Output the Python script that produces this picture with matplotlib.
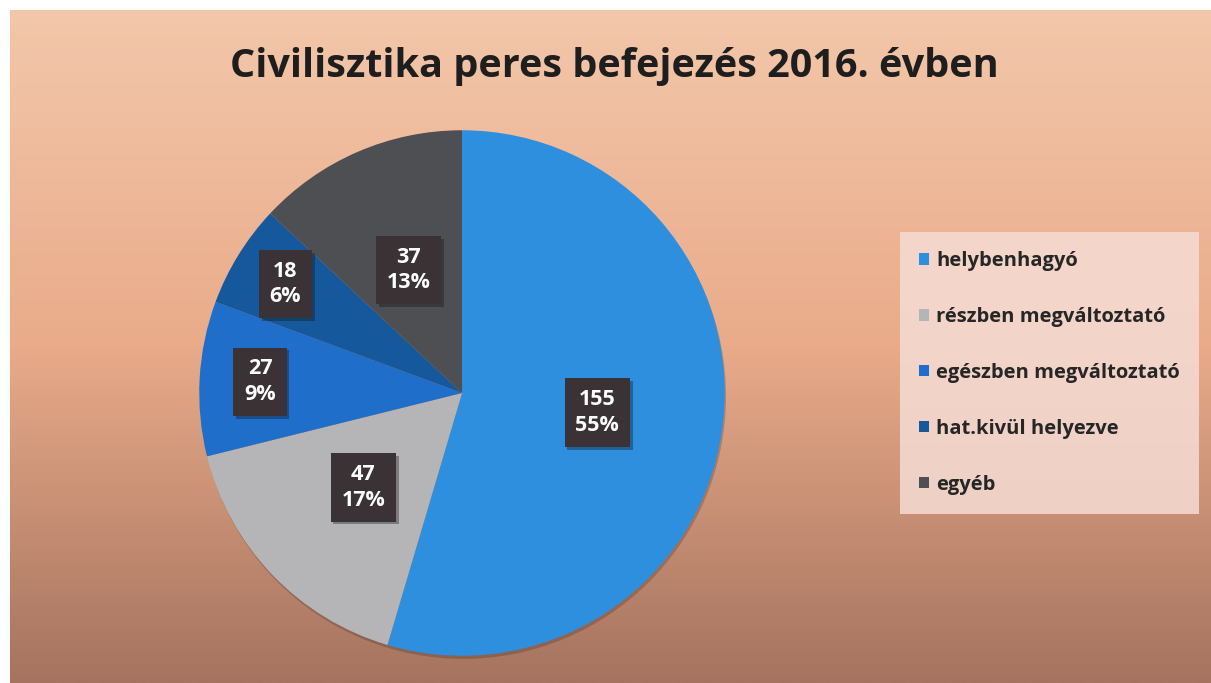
import numpy as np
import matplotlib.pyplot as plt
import matplotlib.patheffects as pe
from matplotlib.patches import Circle

plt.rcParams['font.family'] = ['Open Sans', 'DejaVu Sans']

# data
categories = ['helybenhagyó', 'részben megváltoztató', 'egészben megváltoztató',
              'hat.kivül helyezve', 'egyéb']
counts = [155, 47, 27, 18, 37]
percent_labels = ['55%', '17%', '9%', '6%', '13%']

# style
colors = ['#2f8fdf', '#b5b5b7', '#1f6fca', '#15599c', '#4e4f52']
label_dist = [0.52, 0.52, 0.77, 0.79, 0.51]

W, H = 1211, 683
fig = plt.figure(figsize=(W / 100, H / 100), dpi=100)
fig.patch.set_facecolor('white')

# background gradient panel
bg = fig.add_axes([0, 0, 1, 1])
ys = np.linspace(0, 1, 300)
stops_y = [0.0, 0.5, 1.0]
stops_c = [(243, 199, 170), (233, 171, 138), (165, 115, 95)]
grad = np.zeros((300, 1, 3))
for k in range(3):
    grad[:, 0, k] = np.interp(ys, stops_y, [c[k] / 255 for c in stops_c])
bg.imshow(grad, aspect='auto', extent=(10, W, H, 10))
bg.set_xlim(0, W)
bg.set_ylim(H, 0)
bg.axis('off')

# pie
cx, cy, R = 462, 393, 268
ax = fig.add_axes([(cx - R) / W, (H - cy - R) / H, 2 * R / W, 2 * R / H])
ax.add_patch(Circle((0.005, -0.012), 1.0, fc='black', alpha=0.18, ec='none', zorder=0))
wedges, _ = ax.pie(counts, colors=colors, startangle=90, counterclock=False,
                   radius=1, wedgeprops=dict(linewidth=0))
ax.set_xlim(-1.02, 1.02)
ax.set_ylim(-1.02, 1.02)
ax.set_aspect('equal')
ax.axis('off')

for w, n, p, d in zip(wedges, counts, percent_labels, label_dist):
    mid = np.deg2rad((w.theta1 + w.theta2) / 2)
    t = ax.text(d * np.cos(mid), d * np.sin(mid), f'{n}\n{p}', ha='center', va='center',
                color='white', fontsize=15.5, fontweight='bold', linespacing=1.3,
                bbox=dict(boxstyle='square,pad=0.5', fc='#3b3236', ec='none'))
    t.get_bbox_patch().set_path_effects([pe.SimplePatchShadow(offset=(2, -2), alpha=0.35),
                                         pe.Normal()])

# legend
leg = fig.legend(wedges, categories, loc='upper left',
                 bbox_to_anchor=(900 / W, 1 - 232 / H), frameon=True,
                 fontsize=14.5, handlelength=0.5, handleheight=0.5, handletextpad=0.35,
                 labelspacing=1.78, borderpad=0.95, borderaxespad=0)
leg.get_frame().set_facecolor((245 / 255, 220 / 255, 212 / 255))
leg.get_frame().set_alpha(0.85)
leg.get_frame().set_edgecolor('none')
leg.get_frame().set_boxstyle('square', pad=0)
for txt in leg.get_texts():
    txt.set_color('#262626')
    txt.set_fontweight('bold')

fig.text(614 / W, 1 - 66 / H, 'Civilisztika peres befejezés 2016. évben',
         ha='center', va='center', fontsize=28.5, fontweight='bold', color='#1e1e1e')

fig.savefig('out.png', dpi=100)
